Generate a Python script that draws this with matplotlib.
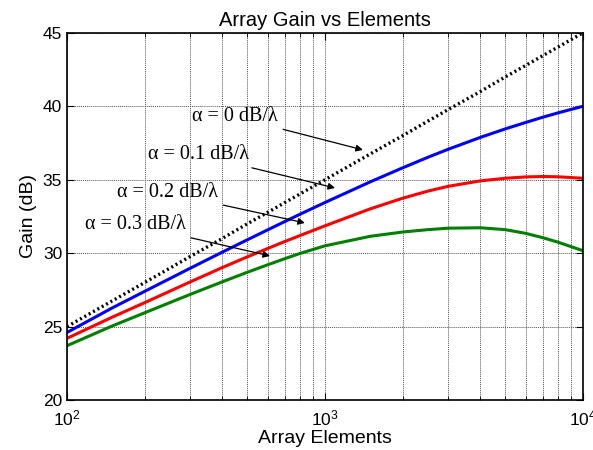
import matplotlib
matplotlib.use("Agg")
import matplotlib.pyplot as plt
from matplotlib.ticker import LogLocator

plt.rcParams['font.family'] = ['Liberation Sans', 'DejaVu Sans']
plt.rcParams['mathtext.default'] = 'regular'

# ---- data ----
elements = [100, 150, 200, 300, 400, 500, 600, 700, 800, 1000, 1500, 2000, 2500, 3000,
            4000, 5000, 6000, 7000, 8000, 10000]
gain_a0 = [25.0, 26.76, 28.0, 29.77, 31.0, 32.0, 32.78, 33.45, 34.03, 35.0, 36.76, 38.0,
           38.98, 39.77, 41.0, 42.0, 42.78, 43.45, 44.03, 45.0]
gain_a01 = [24.6, 26.28, 27.4, 28.97, 30.07, 30.91, 31.59, 32.16, 32.65, 33.45, 34.86, 35.81,
            36.52, 37.07, 37.88, 38.46, 38.9, 39.26, 39.55, 40.0]
gain_a02 = [24.2, 25.65, 26.63, 28.04, 29.02, 29.75, 30.32, 30.8, 31.2, 31.86, 33.02, 33.74,
            34.22, 34.55, 34.92, 35.1, 35.19, 35.22, 35.2, 35.1]
gain_a03 = [23.7, 25.05, 25.94, 27.19, 28.05, 28.7, 29.21, 29.63, 29.98, 30.5, 31.15, 31.44,
            31.6, 31.7, 31.73, 31.6, 31.35, 31.05, 30.75, 30.17]

label_text = ["\u03b1 = 0 dB/\u03bb", "\u03b1 = 0.1 dB/\u03bb",
              "\u03b1 = 0.2 dB/\u03bb", "\u03b1 = 0.3 dB/\u03bb"]

fig = plt.figure(figsize=(5.93, 4.5), dpi=100)
ax = fig.add_axes([0.113, 0.111, 0.870, 0.816])

ax.plot(elements, gain_a0, color='black', lw=2.4, linestyle=(0, (0.6, 0.9)))
ax.plot(elements, gain_a01, color='#0000ff', lw=2.2)
ax.plot(elements, gain_a02, color='#ff0000', lw=2.2)
ax.plot(elements, gain_a03, color='#007f00', lw=2.2)

ax.set_xscale('log')
ax.set_xlim(100, 10000)
ax.set_ylim(20, 45)
ax.set_yticks([20, 25, 30, 35, 40, 45])
ax.xaxis.set_major_locator(LogLocator(base=10, numticks=10))
ax.xaxis.set_minor_locator(LogLocator(base=10, subs=range(2, 10), numticks=100))

ax.grid(True, which='major', color='#555555', linestyle=(0, (1, 1)), lw=0.7)
ax.grid(True, which='minor', axis='x', color='#555555', linestyle=(0, (1, 1)), lw=0.7)
ax.tick_params(which='both', direction='in', top=True, right=True, labelsize=12.5)
ax.tick_params(axis='x', which='major', pad=6)
ax.tick_params(which='major', length=5)
ax.tick_params(which='minor', length=3)
for sp in ax.spines.values():
    sp.set_linewidth(1.2)

ax.set_title("Array Gain vs Elements", fontsize=14.5, pad=5)
ax.set_xlabel("Array Elements", fontsize=14, labelpad=1)
ax.set_ylabel("Gain (dB)", fontsize=14, labelpad=4)

# annotations: text position (left edge) and arrow tip
text_pos = [(305, 39.28), (206, 36.69), (156, 34.10), (117, 31.92)]
tip_pos = [(1403, 37.03), (1094, 34.44), (836, 32.06), (612, 29.81)]
for txt, tp, tip in zip(label_text, text_pos, tip_pos):
    ax.annotate(txt, xy=tip, xytext=tp, ha='left', va='center',
                fontsize=14.5, family=['Liberation Serif', 'DejaVu Serif'],
                arrowprops=dict(arrowstyle='-|>', color='black', lw=0.9,
                                mutation_scale=10, shrinkA=2, shrinkB=0))

fig.savefig("out.png", dpi=100)
